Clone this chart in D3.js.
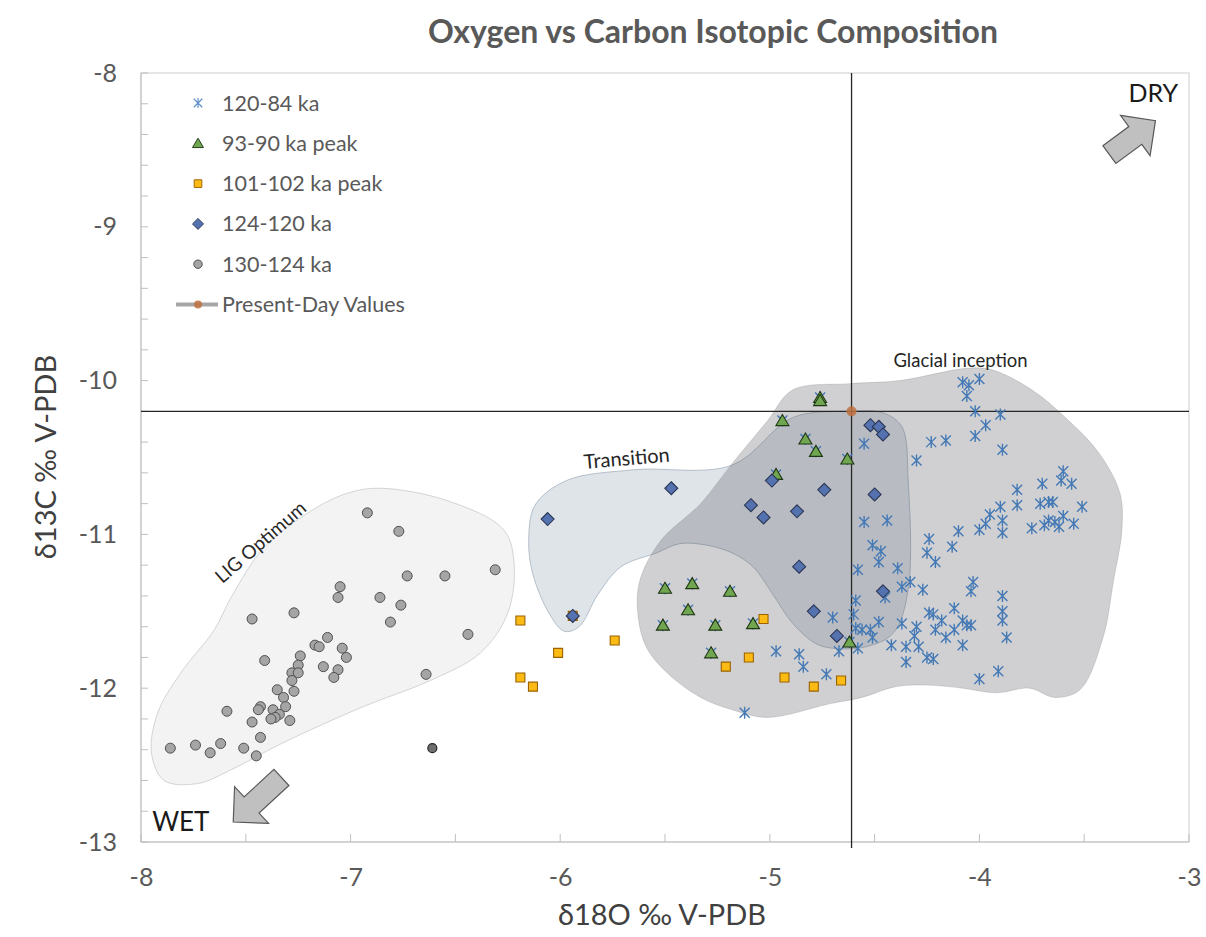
<!DOCTYPE html>
<html>
<head>
<meta charset="utf-8">
<script src="https://cdn.jsdelivr.net/npm/d3@7"></script>
<style>
  body { margin: 0; background: #fff; }
  text { font-family: Lato, "Open Sans", sans-serif; }
</style>
</head>
<body>
<div id="chart"></div>
<script>

// axis ticks
const xTicks = [-8, -7, -6, -5, -4, -3]
const yTicks = [-8, -9, -10, -11, -12, -13]

const seriesNames = ['120-84 ka', '93-90 ka peak', '101-102 ka peak', '124-120 ka', '130-124 ka', 'Present-Day Values']

// [d18O, d13C]
const stars = [
    [-4.08,-10.01],[-4.05,-10.03],[-4.00,-9.99],[-4.06,-10.10],[-4.02,-10.20],[-3.90,-10.22],[-3.97,-10.29],
    [-4.02,-10.36],[-4.23,-10.40],[-4.16,-10.39],[-3.89,-10.45],[-4.30,-10.52],[-4.55,-10.41],
    [-4.55,-10.92],[-4.44,-10.91],[-4.51,-11.07],[-4.47,-11.11],[-4.48,-11.18],[-4.58,-11.23],[-4.39,-11.22],
    [-4.33,-11.31],[-4.37,-11.34],[-4.27,-11.36],[-4.59,-11.43],[-4.45,-11.41],[-4.70,-11.54],[-4.60,-11.52],
    [-4.37,-11.58],[-4.30,-11.60],[-4.48,-11.57],[-4.52,-11.62],[-4.56,-11.62],[-4.59,-11.61],[-4.51,-11.67],
    [-4.58,-11.74],[-4.67,-11.76],[-4.31,-11.66],[-4.35,-11.73],[-4.42,-11.72],[-4.29,-11.73],[-4.25,-11.80],
    [-4.22,-11.81],[-4.35,-11.83],
    [-4.97,-11.76],[-4.86,-11.78],[-4.84,-11.86],[-4.73,-11.91],[-5.12,-12.16],
    [-4.24,-11.03],[-4.10,-10.98],[-4.00,-10.97],[-3.89,-10.99],[-3.97,-10.93],[-3.95,-10.87],[-3.90,-10.82],
    [-4.25,-11.12],[-4.21,-11.18],[-4.13,-11.08],[-3.82,-10.81],[-3.82,-10.71],
    [-3.60,-10.59],[-3.61,-10.65],[-3.56,-10.67],[-3.70,-10.67],[-3.71,-10.80],[-3.67,-10.79],[-3.65,-10.79],
    [-3.51,-10.82],[-3.67,-10.91],[-3.64,-10.92],[-3.60,-10.88],[-3.62,-10.95],[-3.55,-10.93],[-3.75,-10.96],
    [-3.69,-10.94],[-3.89,-10.91],
    [-4.03,-11.31],[-4.04,-11.37],[-3.89,-11.40],[-3.89,-11.50],[-3.89,-11.56],[-3.87,-11.67],[-4.24,-11.51],
    [-4.12,-11.48],[-4.22,-11.52],[-4.18,-11.56],[-4.08,-11.56],[-4.06,-11.59],[-4.04,-11.59],[-4.21,-11.62],
    [-4.12,-11.62],[-4.16,-11.67],[-4.08,-11.72],[-4.00,-11.94],[-3.91,-11.89],
    // samples that also sit under the 93-90 ka peak triangles
    [-4.76,-10.11],[-4.94,-10.26],[-4.83,-10.38],[-4.78,-10.46],[-4.63,-10.51],[-4.97,-10.61],[-5.50,-11.35],
    [-5.37,-11.32],[-5.19,-11.37],[-5.39,-11.49],[-5.51,-11.59],[-5.26,-11.59],[-5.08,-11.58],[-5.28,-11.77],
    [-4.62,-11.70]
]

const triangles = [
    [-4.76,-10.11],[-4.76,-10.13],[-4.94,-10.26],[-4.83,-10.38],[-4.78,-10.46],[-4.63,-10.51],[-4.97,-10.61],
    [-5.50,-11.35],[-5.37,-11.32],[-5.19,-11.37],[-5.39,-11.49],[-5.51,-11.59],[-5.26,-11.59],[-5.08,-11.58],
    [-5.28,-11.77],[-4.62,-11.70]
]

const squares = [
    [-6.19,-11.56],[-6.19,-11.93],[-6.13,-11.99],[-6.01,-11.77],[-5.94,-11.53],[-5.74,-11.69],
    [-5.21,-11.86],[-5.10,-11.80],[-5.03,-11.55],[-4.93,-11.93],[-4.79,-11.99],[-4.66,-11.95]
]

const diamonds = [
    [-6.06,-10.90],[-5.47,-10.70],[-5.94,-11.53],[-4.99,-10.65],[-5.09,-10.81],[-5.03,-10.89],[-4.87,-10.85],
    [-4.74,-10.71],[-4.50,-10.74],[-4.86,-11.21],[-4.46,-11.37],[-4.79,-11.50],[-4.68,-11.66],
    [-4.52,-10.29],[-4.48,-10.30],[-4.46,-10.35]
]

const circles = [
    [-6.92,-10.86],[-6.77,-10.98],[-6.31,-11.23],[-6.73,-11.27],[-6.55,-11.27],[-7.05,-11.34],[-7.06,-11.41],
    [-6.86,-11.41],[-6.76,-11.46],[-7.47,-11.55],[-7.27,-11.51],[-6.81,-11.57],[-6.44,-11.65],[-7.11,-11.67],
    [-7.17,-11.72],[-7.15,-11.73],[-7.04,-11.74],[-7.02,-11.80],[-7.24,-11.79],[-7.41,-11.82],[-7.25,-11.85],
    [-7.13,-11.86],[-7.06,-11.88],[-7.28,-11.90],[-7.25,-11.90],[-7.08,-11.93],[-7.28,-11.95],[-6.64,-11.91],
    [-7.35,-12.01],[-7.27,-12.02],[-7.32,-12.06],[-7.31,-12.12],[-7.59,-12.15],[-7.43,-12.12],[-7.44,-12.14],
    [-7.37,-12.14],[-7.34,-12.17],[-7.36,-12.19],[-7.38,-12.20],[-7.29,-12.21],[-7.47,-12.22],[-7.43,-12.32],
    [-7.86,-12.39],[-7.74,-12.37],[-7.67,-12.42],[-7.62,-12.36],[-7.51,-12.39],[-7.45,-12.44]
]
const circlesDark = [[-6.61,-12.39]]

const presentDay = [-4.61, -10.2]

// hand-drawn envelopes
const ligHull = [
    [-7.95,-12.42],[-7.92,-12.16],[-7.81,-11.90],[-7.65,-11.62],[-7.57,-11.41],[-7.41,-11.08],[-7.18,-10.84],
    [-7.01,-10.73],[-6.86,-10.70],[-6.54,-10.78],[-6.27,-10.97],[-6.22,-11.19],[-6.25,-11.51],[-6.38,-11.77],
    [-6.62,-11.95],[-6.94,-12.12],[-7.33,-12.36],[-7.57,-12.53],[-7.73,-12.62],[-7.89,-12.60]
]
const transitionHull = [
    [-6.15,-11.04],[-6.12,-10.81],[-5.97,-10.65],[-5.65,-10.58],[-5.18,-10.55],[-4.89,-10.24],[-4.62,-10.20],
    [-4.46,-10.21],[-4.37,-10.30],[-4.34,-10.65],[-4.34,-11.36],[-4.41,-11.64],[-4.54,-11.73],[-4.70,-11.74],
    [-4.78,-11.71],[-4.89,-11.58],[-4.99,-11.38],[-5.08,-11.21],[-5.18,-11.12],[-5.30,-11.07],[-5.43,-11.06],
    [-5.54,-11.12],[-5.71,-11.21],[-5.82,-11.39],[-5.91,-11.60],[-5.98,-11.63],[-6.05,-11.52],[-6.13,-11.26]
]
const glacialHull = [
    [-4.89,-10.06],[-4.62,-10.02],[-4.38,-10.00],[-4.06,-9.92],[-3.94,-9.93],[-3.75,-10.06],[-3.59,-10.24],
    [-3.43,-10.47],[-3.33,-10.73],[-3.32,-10.97],[-3.36,-11.30],[-3.41,-11.67],[-3.52,-12.01],[-3.64,-12.06],
    [-3.76,-12.00],[-3.92,-12.03],[-4.08,-12.00],[-4.24,-11.98],[-4.40,-11.99],[-4.56,-12.06],[-4.71,-12.10],
    [-5.01,-12.19],[-5.18,-12.14],[-5.33,-12.06],[-5.49,-11.90],[-5.59,-11.73],[-5.63,-11.51],[-5.62,-11.30],
    [-5.52,-11.04],[-5.33,-10.80],[-5.18,-10.54],[-5.01,-10.26]
]

// arrows: [tail, tip]
const dryArrow = [[-3.38,-8.53],[-3.16,-8.31]]
const wetArrow = [[-7.33,-12.58],[-7.56,-12.87]]


let width = 1206,
    height = 937

let svg = d3.select('#chart').append('svg')
    .attr('width', width)
    .attr('height', height)

let plotLeft = 141, plotTop = 73
let plotW = 1189 - plotLeft, plotH = 842 - plotTop

let xScale = d3.scaleLinear().domain([-8, -3]).range([0, plotW])
let yScale = d3.scaleLinear().domain([-13, -8]).range([plotH, 0])

let g = svg.append('g').attr('transform', 'translate(' + plotLeft + ',' + plotTop + ')')

// envelopes
let hullLine = d3.line()
    .x(function(d){ return xScale(d[0]) })
    .y(function(d){ return yScale(d[1]) })
    .curve(d3.curveCatmullRomClosed.alpha(0.5))

g.append('path').datum(ligHull)
    .attr('d', hullLine)
    .attr('fill', '#f3f3f3')
    .attr('stroke', '#d4d4d4')
    .attr('stroke-width', 1)

g.append('path').datum(transitionHull)
    .attr('d', hullLine)
    .attr('fill', 'rgba(150,165,182,0.3)')
    .attr('stroke', '#b3bfca')
    .attr('stroke-width', 1)

g.append('path').datum(glacialHull)
    .attr('d', hullLine)
    .attr('fill', 'rgba(80,80,88,0.27)')
    .attr('stroke', 'rgba(120,120,128,0.25)')
    .attr('stroke-width', 1)

// frame
g.append('rect')
    .attr('width', plotW)
    .attr('height', plotH)
    .attr('fill', 'none')
    .attr('stroke', '#d9d9d9')
    .attr('stroke-width', 1.3)

// minor ticks inside the frame
g.selectAll('.ytick').data(yScale.ticks(25)).enter().append('line')
    .attr('x1', 0).attr('x2', 7)
    .attr('y1', function(d){ return yScale(d) })
    .attr('y2', function(d){ return yScale(d) })
    .attr('stroke', '#bfbfbf')

g.selectAll('.xtick').data(xScale.ticks(10)).enter().append('line')
    .attr('y1', plotH).attr('y2', plotH - 8)
    .attr('x1', function(d){ return xScale(d) })
    .attr('x2', function(d){ return xScale(d) })
    .attr('stroke', '#bfbfbf')

g.append('line')
    .attr('x1', 0).attr('x2', 0).attr('y1', 0).attr('y2', plotH)
    .attr('stroke', '#bfbfbf')
g.append('line')
    .attr('x1', 0).attr('x2', plotW).attr('y1', plotH).attr('y2', plotH)
    .attr('stroke', '#bfbfbf')

// axis labels
g.append('g')
    .attr('transform', 'translate(0,' + plotH + ')')
    .call(d3.axisBottom(xScale).tickValues(xTicks).tickSize(0).tickPadding(26)
        .tickFormat(function(d){ return String(d) }))

g.append('g')
    .call(d3.axisLeft(yScale).tickValues(yTicks).tickSize(0).tickPadding(24)
        .tickFormat(function(d){ return String(d) }))

g.selectAll('.domain').remove()
g.selectAll('.tick text')
    .attr('font-family', 'Lato, sans-serif')
    .attr('font-size', 25)
    .attr('fill', '#595959')

// present-day reference lines
g.append('line')
    .attr('x1', xScale(presentDay[0])).attr('x2', xScale(presentDay[0]))
    .attr('y1', 0).attr('y2', plotH + 6)
    .attr('stroke', '#262626').attr('stroke-width', 1.3)
g.append('line')
    .attr('x1', 0).attr('x2', plotW)
    .attr('y1', yScale(presentDay[1])).attr('y2', yScale(presentDay[1]))
    .attr('stroke', '#262626').attr('stroke-width', 1.3)

// region labels
g.append('text')
    .attr('x', xScale(-4.09)).attr('y', yScale(-9.91))
    .attr('text-anchor', 'middle')
    .attr('font-size', 18.5)
    .attr('fill', '#262626')
    .text('Glacial inception')

g.append('text')
    .attr('transform', 'translate(' + xScale(-5.68) + ',' + yScale(-10.55) + ') rotate(-5)')
    .attr('text-anchor', 'middle')
    .attr('font-size', 20)
    .attr('fill', '#262626')
    .text('Transition')

g.append('text')
    .attr('transform', 'translate(' + xScale(-7.43) + ',' + yScale(-11.05) + ') rotate(-41)')
    .attr('text-anchor', 'middle')
    .attr('dy', '0.35em')
    .attr('font-size', 19)
    .attr('fill', '#262626')
    .text('LIG Optimum')

// block arrows
function blockArrow(tail, tip){
    let x0 = xScale(tail[0]), y0 = yScale(tail[1])
    let x1 = xScale(tip[0]), y1 = yScale(tip[1])
    let len = Math.hypot(x1 - x0, y1 - y0)
    let ang = Math.atan2(y1 - y0, x1 - x0) * 180 / Math.PI
    let hw = 11, headW = 25, headL = 25
    let pts = [[0,-hw],[len-headL,-hw],[len-headL,-headW],[len,0],[len-headL,headW],[len-headL,hw],[0,hw]]
    g.append('path')
        .attr('transform', 'translate(' + x0 + ',' + y0 + ') rotate(' + ang + ')')
        .attr('d', 'M' + pts.join('L') + 'Z')
        .attr('fill', '#c0c0c0')
        .attr('stroke', '#595959')
        .attr('stroke-width', 1.2)
}
blockArrow(dryArrow[0], dryArrow[1])
blockArrow(wetArrow[0], wetArrow[1])

g.append('text')
    .attr('x', xScale(-3.17)).attr('y', yScale(-8.19))
    .attr('text-anchor', 'middle')
    .attr('font-size', 25)
    .attr('fill', '#1a1a1a')
    .text('DRY')

g.append('text')
    .attr('x', xScale(-7.81)).attr('y', yScale(-12.93))
    .attr('text-anchor', 'middle')
    .attr('font-size', 26)
    .attr('fill', '#1a1a1a')
    .text('WET')

// marker shapes
let starPath = 'M0,-6L0,6M-5,-5L5,5M-5,5L5,-5'
let triPath = 'M0,-6L6.5,5L-6.5,5Z'
let sqPath = 'M-4.5,-4.5L4.5,-4.5L4.5,4.5L-4.5,4.5Z'
let diaPath = 'M0,-6.5L6.5,0L0,6.5L-6.5,0Z'

function drawMarkers(data, path, fill, stroke, sw){
    g.append('g').selectAll('path').data(data).enter().append('path')
        .attr('transform', function(d){ return 'translate(' + xScale(d[0]) + ',' + yScale(d[1]) + ')' })
        .attr('d', path)
        .attr('fill', fill)
        .attr('stroke', stroke)
        .attr('stroke-width', sw)
}

drawMarkers(stars, starPath, 'none', '#4479b5', 1.4)
drawMarkers(triangles, triPath, '#70a650', '#1f3614', 1.1)
drawMarkers(squares, sqPath, '#fcbb14', '#9a6200', 1.1)
drawMarkers(diamonds, diaPath, '#5572b0', '#2b3654', 1.1)

g.append('g').selectAll('circle').data(circles).enter().append('circle')
    .attr('cx', function(d){ return xScale(d[0]) })
    .attr('cy', function(d){ return yScale(d[1]) })
    .attr('r', 5)
    .attr('fill', '#a5a5a5')
    .attr('stroke', '#505050')
    .attr('stroke-width', 1)

g.append('g').selectAll('circle').data(circlesDark).enter().append('circle')
    .attr('cx', function(d){ return xScale(d[0]) })
    .attr('cy', function(d){ return yScale(d[1]) })
    .attr('r', 4.5)
    .attr('fill', '#6e6e6e')
    .attr('stroke', '#262626')
    .attr('stroke-width', 1.2)

g.append('circle')
    .attr('cx', xScale(presentDay[0]))
    .attr('cy', yScale(presentDay[1]))
    .attr('r', 5)
    .attr('fill', '#c0703e')
    .attr('opacity', 0.85)

// legend
let legend = svg.append('g').attr('transform', 'translate(198,103)')
let rowH = 40.3
let legendShapes = [starPath, triPath, sqPath, diaPath, null, null]
let legendFill = ['none', '#70a650', '#fcbb14', '#5572b0', '#a5a5a5', '#c0703e']
let legendStroke = ['#5b8fc9', '#1f3614', '#9a6200', '#2b3654', '#505050', 'none']

seriesNames.forEach(function(name, i){
    let row = legend.append('g').attr('transform', 'translate(0,' + (i * rowH) + ')')
    if(i < 4){
        row.append('path')
            .attr('d', legendShapes[i])
            .attr('transform', 'scale(0.85)')
            .attr('fill', legendFill[i])
            .attr('stroke', legendStroke[i])
            .attr('stroke-width', i == 0 ? 1.3 : 1.1)
    }
    else if(i == 4){
        row.append('circle').attr('r', 4.2)
            .attr('fill', legendFill[i]).attr('stroke', legendStroke[i])
    }
    else{
        row.append('line')
            .attr('x1', -22).attr('x2', 20)
            .attr('stroke', '#a6a6a6').attr('stroke-width', 4)
        row.append('circle').attr('r', 4)
            .attr('fill', legendFill[i]).attr('opacity', 0.85)
    }
    row.append('text')
        .attr('x', 24)
        .attr('dy', '0.35em')
        .attr('font-size', 21.5)
        .attr('fill', '#595959')
        .text(name)
})

// titles
svg.append('text')
    .attr('x', 713).attr('y', 43)
    .attr('text-anchor', 'middle')
    .attr('font-size', 32)
    .attr('font-weight', 'bold')
    .attr('fill', '#595959')
    .text('Oxygen vs Carbon Isotopic Composition')

svg.append('text')
    .attr('x', 662).attr('y', 925)
    .attr('text-anchor', 'middle')
    .attr('font-size', 29)
    .attr('fill', '#404040')
    .text('δ18O ‰ V-PDB')

svg.append('text')
    .attr('transform', 'translate(56,457) rotate(-90)')
    .attr('text-anchor', 'middle')
    .attr('font-size', 29)
    .attr('fill', '#404040')
    .text('δ13C ‰ V-PDB')

</script>
</body>
</html>
